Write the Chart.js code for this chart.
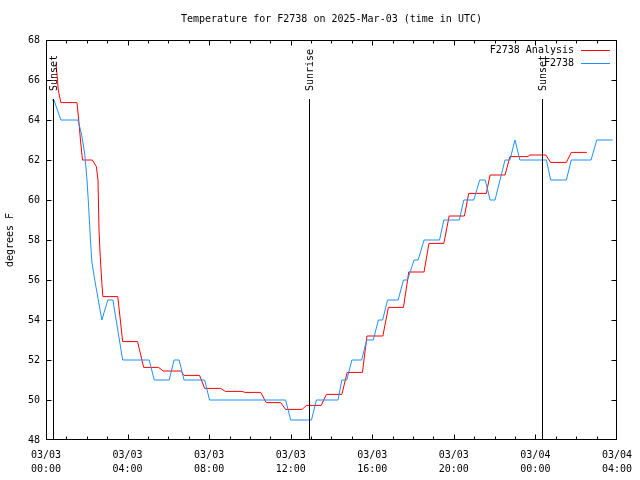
<!DOCTYPE html>
<html>
<head>
<meta charset="utf-8">
<script src="https://cdn.jsdelivr.net/npm/chart.js@4/dist/chart.umd.min.js"></script>
<style>
html,body{margin:0;padding:0;background:#fff;}
canvas{display:block;}
</style>
</head>
<body>
<canvas id="c" width="640" height="480"></canvas>
<script>
// ---- data (hours since 2025-03-03 00:00 UTC, degrees F) ----
const TITLE = "Temperature for F2738 on 2025-Mar-03 (time in UTC)";
const Y_TITLE = "degrees F";
const SERIES_NAMES = ["F2738 Analysis", "F2738"];

const RED_T = [0.49,0.55,0.60,0.73,1.52,1.62,1.69,1.79,2.27,2.47,2.55,2.60,2.66,2.74,2.79,3.52,3.76,4.49,4.79,5.52,5.75,6.61,6.77,7.53,7.78,8.56,8.80,9.61,9.75,10.53,10.80,11.51,11.75,12.56,12.77,13.50,13.75,14.51,14.77,15.52,15.74,16.52,16.79,17.53,17.79,18.54,18.78,19.51,19.77,20.52,20.73,21.59,21.78,22.51,22.75,23.65,23.71,24.51,24.75,25.52,25.76,26.52];
const RED_V = [66.83,66.17,65.5,64.87,64.87,63.83,63,62,62,61.67,61,58.5,57.17,55.83,55.17,55.17,52.92,52.92,51.63,51.63,51.45,51.45,51.23,51.23,50.58,50.58,50.43,50.43,50.38,50.38,49.87,49.87,49.53,49.53,49.73,49.73,50.28,50.28,51.38,51.38,53.2,53.2,54.63,54.63,56.4,56.4,57.83,57.83,59.2,59.2,60.33,60.33,61.25,61.25,62.17,62.17,62.25,62.25,61.88,61.88,62.38,62.38];

const BLUE_T = [0.29,0.39,0.73,1.57,1.74,1.90,2.01,2.09,2.18,2.25,2.39,2.74,3.03,3.28,3.76,5.06,5.31,6.04,6.28,6.53,6.77,7.78,8.02,11.75,12.0,13.02,13.26,14.32,14.51,14.75,15.0,15.48,15.73,16.05,16.3,16.51,16.75,17.27,17.53,17.73,18.05,18.25,18.54,19.3,19.51,20.27,20.49,20.98,21.27,21.54,21.78,22.02,22.51,22.75,23.0,23.24,24.54,24.75,25.52,25.76,26.73,27.01,27.79];
const BLUE_V = [65,65,64,64,63.3,62.3,61,59.7,58,56.9,56,54,55,55,52,52,51,51,52,52,51,51,50,50,49,49,50,50,51,51,52,52,53,53,54,54,55,55,56,56,57,57,58,58,59,59,60,60,61,61,60,60,62,62,63,62,62,61,61,62,62,63,63];

const EVENT_NAMES = ["Sunset", "Sunrise", "Sunset"];
const EVENT_T = [0.36, 12.92, 24.32];
const EVENT_TOP = 65.05;

const X_TICK_LABELS = [["03/03","00:00"],["03/03","04:00"],["03/03","08:00"],["03/03","12:00"],["03/03","16:00"],["03/03","20:00"],["03/04","00:00"],["03/04","04:00"]];
const X_MIN = 0, X_MAX = 28, X_STEP = 4;
const Y_MIN = 48, Y_MAX = 68, Y_STEP = 2;

// ---- build ----
const FONT = "'DejaVu Sans Mono', 'Liberation Mono', monospace";
const RED = "#ff0000", BLUE = "#1e90ff";
const pts = (T, V) => T.map((t, i) => ({x: t, y: V[i]}));

const datasets = [
  {label: SERIES_NAMES[0], data: pts(RED_T, RED_V), borderColor: RED, borderWidth: 1, pointRadius: 0, tension: 0, order: 3, legendRow: 0},
  {label: SERIES_NAMES[1], data: pts(BLUE_T, BLUE_V), borderColor: BLUE, borderWidth: 1, pointRadius: 0, tension: 0, order: 2, legendRow: 1}
];
EVENT_T.forEach((t, i) => {
  datasets.push({label: EVENT_NAMES[i], data: [{x: t, y: EVENT_TOP}, {x: t, y: Y_MIN}], borderColor: "#000", borderWidth: 1, pointRadius: 0, showLine: false, order: 1, isEvent: true});
});

const decor = {
  id: 'decor',
  afterDatasetsDraw(chart) {
    const ctx = chart.ctx, a = chart.chartArea;
    const xs = chart.scales.x, ys = chart.scales.y;
    ctx.save();
    ctx.strokeStyle = '#000';
    ctx.lineWidth = 1;
    const L = Math.round(a.left) + 0.5, R = Math.round(a.right) - 0.5;
    const T = Math.round(a.top) + 0.5, B = Math.round(a.bottom) - 0.5;
    ctx.strokeRect(L, T, R - L, B - T);
    ctx.beginPath();
    // x ticks: hourly minor, 4-hourly major, inward, mirrored
    for (let h = X_MIN + 1; h < X_MAX; h++) {
      const px = Math.round(xs.getPixelForValue(h)) + 0.5;
      const len = (h % X_STEP === 0) ? 5 : 3;
      ctx.moveTo(px, B); ctx.lineTo(px, B - len);
      ctx.moveTo(px, T); ctx.lineTo(px, T + len);
    }
    ys.ticks.forEach(tk => {
      if (tk.value <= Y_MIN || tk.value >= Y_MAX) return;
      const py = Math.round(ys.getPixelForValue(tk.value)) + 0.5;
      ctx.moveTo(L, py); ctx.lineTo(L + 5, py);
      ctx.moveTo(R, py); ctx.lineTo(R - 5, py);
    });
    // event vertical lines (crisp, from dataset values through the scales)
    chart.data.datasets.forEach(ds => {
      if (!ds.isEvent) return;
      const px = Math.round(xs.getPixelForValue(ds.data[0].x)) + 0.5;
      ctx.moveTo(px, Math.round(ys.getPixelForValue(ds.data[0].y)));
      ctx.lineTo(px, Math.round(ys.getPixelForValue(ds.data[1].y)));
    });
    ctx.stroke();

    ctx.fillStyle = '#000';
    ctx.font = "10px " + FONT;
    // event labels (rotated)
    chart.data.datasets.forEach(ds => {
      if (!ds.isEvent) return;
      const px = Math.round(xs.getPixelForValue(ds.data[0].x)) + 0.5;
      const py = ys.getPixelForValue(EVENT_TOP) - 8;
      ctx.save();
      ctx.translate(px + 1, py);
      ctx.rotate(-Math.PI / 2);
      ctx.textAlign = 'left';
      ctx.textBaseline = 'middle';
      ctx.fillText(ds.label, 0, 0);
      ctx.restore();
    });
    // title
    ctx.textAlign = 'center';
    ctx.textBaseline = 'middle';
    ctx.fillText(TITLE, (a.left + a.right) / 2, 19.5);
    // legend
    chart.data.datasets.forEach(ds => {
      if (ds.legendRow === undefined) return;
      const y = 50 + ds.legendRow * 13;
      ctx.fillStyle = '#000';
      ctx.textAlign = 'right';
      ctx.textBaseline = 'middle';
      ctx.fillText(ds.label, 574, y);
      ctx.strokeStyle = ds.borderColor;
      ctx.beginPath();
      ctx.moveTo(581, Math.round(y) + 0.5);
      ctx.lineTo(610, Math.round(y) + 0.5);
      ctx.stroke();
    });
    ctx.restore();
  }
};

new Chart(document.getElementById('c'), {
  type: 'line',
  data: {datasets},
  options: {
    responsive: false,
    animation: false,
    devicePixelRatio: 1,
    layout: {padding: {top: 40, right: 19, left: 0, bottom: 0}},
    plugins: {legend: {display: false}, title: {display: false}, tooltip: {enabled: false}},
    scales: {
      x: {
        type: 'linear', min: X_MIN, max: X_MAX,
        grid: {display: false, drawTicks: false},
        border: {display: false},
        afterFit: s => { s.height = 40; },
        afterBuildTicks: s => { s.ticks = X_TICK_LABELS.map((l, i) => ({value: X_MIN + i * X_STEP})); },
        ticks: {
          autoSkip: false, maxRotation: 0, minRotation: 0, padding: 8,
          color: '#000', font: {family: FONT, size: 10, lineHeight: 1.45},
          callback: (v, i) => X_TICK_LABELS[i]
        }
      },
      y: {
        type: 'linear', min: Y_MIN, max: Y_MAX,
        grid: {display: false, drawTicks: false},
        border: {display: false},
        afterFit: s => { s.width = 46; },
        ticks: {stepSize: Y_STEP, padding: 6, color: '#000', font: {family: FONT, size: 10}},
        title: {display: true, text: Y_TITLE, color: '#000', font: {family: FONT, size: 10}, padding: {top: 4, bottom: 0}}
      }
    }
  },
  plugins: [decor]
});
</script>
</body>
</html>
